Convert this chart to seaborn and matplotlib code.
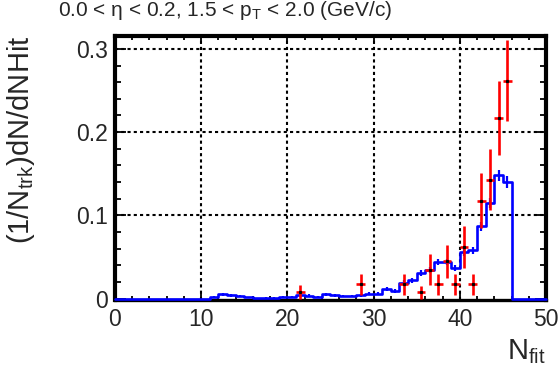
import numpy as np
import pandas as pd
import matplotlib
matplotlib.use("Agg")
import matplotlib.pyplot as plt
import seaborn as sns
from matplotlib.ticker import MultipleLocator, FixedLocator, FixedFormatter

# blue histogram: one bin per NHit value, 0..49
bin_centers = np.arange(0, 50) + 0.5
blue_vals = [0, 0, 0, 0, 0, 0, 0, 0, 0, 0,
             0, 0.002, 0.005, 0.004, 0.003, 0.0015, 0.0005, 0.0012, 0.0012, 0.0025,
             0.0025, 0.004, 0.0035, 0.002, 0.005, 0.004, 0.003, 0.003, 0.004, 0.006,
             0.006, 0.0115, 0.009, 0.019, 0.022, 0.031, 0.034, 0.044, 0.044, 0.037,
             0.056, 0.058, 0.087, 0.115, 0.148, 0.140, 0, 0, 0, 0]
blue_err = [0, 0, 0, 0, 0, 0, 0, 0, 0, 0,
            0, 0.0012, 0.0015, 0.0015, 0.0013, 0.001, 0.0006, 0.001, 0.001, 0.0012,
            0.0012, 0.0015, 0.0015, 0.0012, 0.0015, 0.0015, 0.0013, 0.0013, 0.0015, 0.0018,
            0.0018, 0.0025, 0.0022, 0.003, 0.003, 0.0035, 0.0035, 0.004, 0.004, 0.0038,
            0.0045, 0.0045, 0.0055, 0.006, 0.007, 0.007, 0, 0, 0, 0]

# red points with errors
red_x = [21.5, 28.5, 33.5, 35.5, 36.5, 37.5, 38.5, 39.5, 40.5, 41.5, 42.5, 43.5, 44.5, 45.5]
red_y = [0.008, 0.017, 0.017, 0.0075, 0.035, 0.017, 0.045, 0.017, 0.062, 0.017, 0.1175, 0.143, 0.217, 0.262]
red_err = [0.008, 0.013, 0.013, 0.008, 0.0187, 0.013, 0.02, 0.013, 0.025, 0.013, 0.033, 0.037, 0.045, 0.049]

x_ticks = [0, 10, 20, 30, 40, 50]
y_ticks = [0, 0.1, 0.2, 0.3]
y_labels = ['0', '0.1', '0.2', '0.3']

sns.set_style("white")
plt.rcParams['font.family'] = ['Liberation Sans', 'DejaVu Sans']
plt.rcParams['mathtext.fontset'] = 'custom'
plt.rcParams['mathtext.rm'] = 'Liberation Sans'
plt.rcParams['mathtext.it'] = 'Liberation Sans:italic'

fig = plt.figure(figsize=(5.58, 3.67), dpi=100)
ax = fig.add_axes([0.206, 0.1826, 0.7725, 0.7194])

hist_df = pd.DataFrame({'nhit': bin_centers, 'w': blue_vals})
sns.histplot(data=hist_df, x='nhit', weights='w', binwidth=1, binrange=(0, 50),
             element="step", fill=False, color="blue", linewidth=1.9, ax=ax)
for ln in ax.lines:
    ln.set_zorder(3)
    ln.set_clip_on(False)
ax.errorbar(bin_centers, blue_vals, yerr=blue_err, fmt='none', ecolor='blue', elinewidth=1.6)

ax.errorbar(red_x, red_y, xerr=0.5, yerr=red_err, fmt='none', ecolor='red', elinewidth=1.9, zorder=5)
ax.plot(red_x, red_y, linestyle='none', marker='s', ms=1.3, mfc='black', mec='black', zorder=6)

ax.set_xlim(0, 50)
ax.set_ylim(-0.0016, 0.3155)
ax.xaxis.set_major_locator(FixedLocator(x_ticks))
ax.xaxis.set_minor_locator(MultipleLocator(2))
ax.yaxis.set_major_locator(FixedLocator(y_ticks))
ax.yaxis.set_major_formatter(FixedFormatter(y_labels))
ax.yaxis.set_minor_locator(MultipleLocator(0.02))

ax.grid(True, which='major', color='black', linestyle=(0, (1.5, 1.5)), linewidth=1.5)
ax.set_axisbelow(True)
# no dotted line along y = 0
ax.yaxis.get_gridlines()[0].set_visible(False)

for s in ax.spines.values():
    s.set_color('black')
    s.set_linewidth(3)
ax.spines['bottom'].set_linewidth(2.4)

ax.tick_params(which='both', direction='in', top=True, right=True, bottom=True, left=True,
               color='black', labelsize=16.5)
ax.tick_params(axis='y', which='major', length=8, width=1.3, pad=5)
ax.tick_params(axis='y', which='minor', length=4, width=1.3)
ax.tick_params(axis='x', which='major', length=6, width=1.3, pad=6)
ax.tick_params(axis='x', which='minor', length=3, width=1.3)

ax.set_ylabel(r'(1/N$_{\mathrm{trk}}$)dN/dNHit', fontsize=21, loc='top', labelpad=28)
ax.set_xlabel(r'N$_{\mathrm{fit}}$', fontsize=21, loc='right', labelpad=4)

fig.text(58 / 558, 1 - 16 / 367, r'0.0 < η < 0.2, 1.5 < p$_{\mathrm{T}}$ < 2.0 (GeV/c)',
         fontsize=15, ha='left', va='baseline')

fig.savefig("out.png", dpi=100)
